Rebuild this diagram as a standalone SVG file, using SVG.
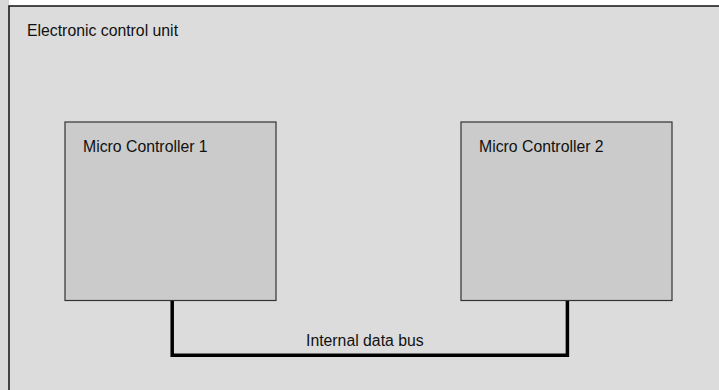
<svg xmlns="http://www.w3.org/2000/svg" width="719" height="390" viewBox="0 0 719 390">
  <style>
    text { font-family: "Liberation Sans", Arial, sans-serif; font-size: 15.8px; fill: #111; }
    .unit { fill: #dcdcdc; stroke: #111; stroke-width: 1.5; }
    .mcu { fill: #cbcbcb; stroke: #333; stroke-width: 1.2; }
    .bus { fill: none; stroke: #000; stroke-width: 3.5; stroke-linejoin: miter; }
  </style>
  <!-- page background -->
  <rect x="0" y="0" width="719" height="390" fill="#ffffff"/>
  <rect x="0" y="0" width="9" height="390" fill="#d9d9d9"/>

  <g id="ecu">
    <rect class="unit" x="9" y="6" width="720" height="400"/>
    <text x="27" y="36">Electronic control unit</text>
  </g>

  <g id="mc1">
    <rect class="mcu" x="65" y="122" width="211" height="178.5"/>
    <text x="83" y="152">Micro Controller 1</text>
  </g>

  <g id="mc2">
    <rect class="mcu" x="461" y="122" width="211" height="178.5"/>
    <text x="479" y="152">Micro Controller 2</text>
  </g>

  <g id="connectors">
    <polyline class="bus" points="172.2,301 172.2,355.2 567.4,355.2 567.4,301"/>
    <text x="306" y="346">Internal data bus</text>
  </g>
</svg>
